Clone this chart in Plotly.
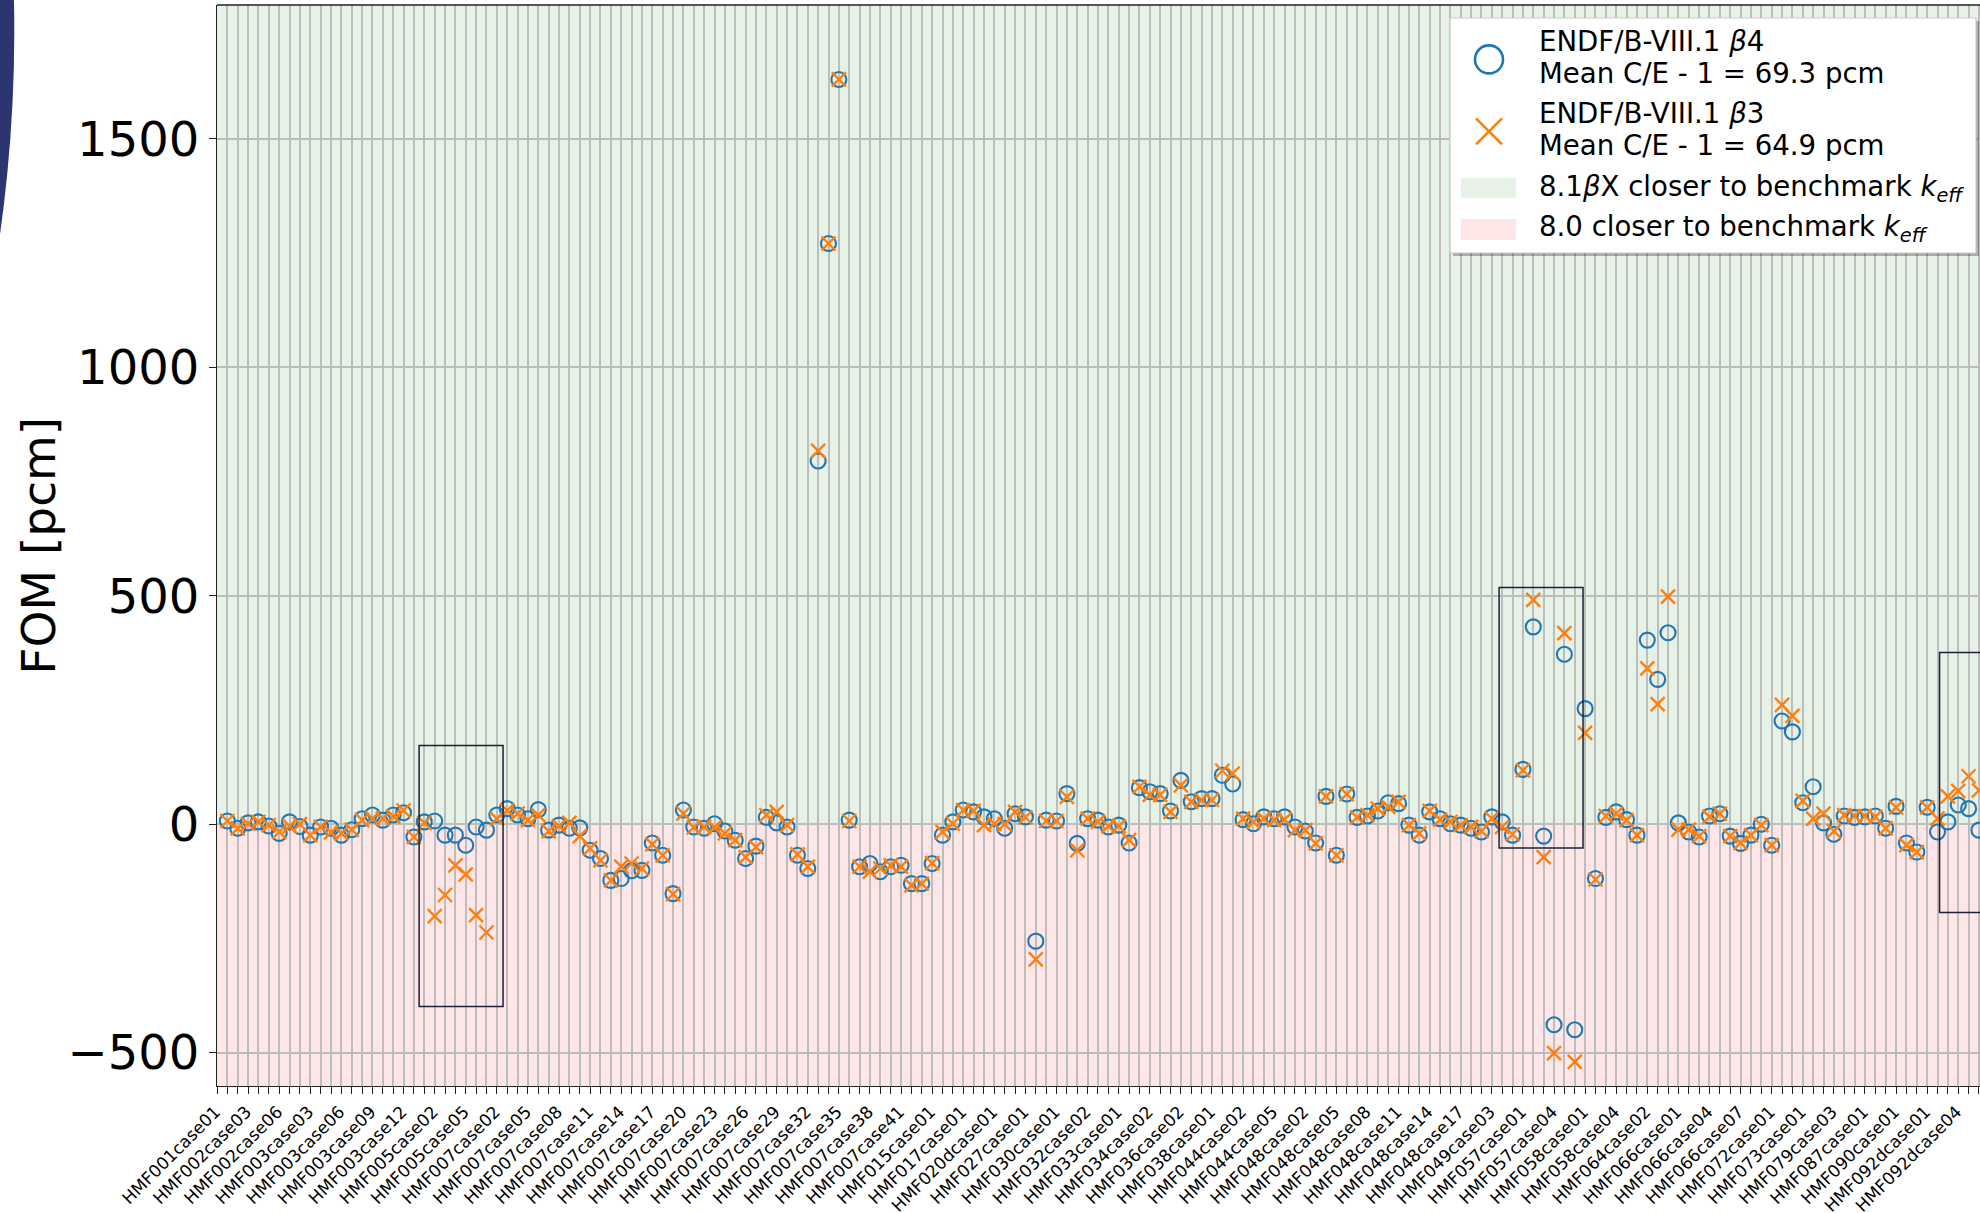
import plotly.graph_objects as go

# ---------------- data ----------------
case_index = list(range(170))

beta4_fom = [
    7, -9, 3, 5, -4, -20, 5, -5, -24, -6,
    -9, -24, -12, 12, 20, 9, 20, 25, -28, 5,
    7, -24, -24, -46, -6, -13, 20, 34, 20, 12,
    32, -13, -2, -9, -8, -57, -75, -123, -119, -102,
    -101, -41, -68, -152, 31, -6, -9, 1, -15, -35,
    -75, -48, 15, 3, -6, -68, -97, 795, 1271, 1630,
    9, -93, -86, -104, -93, -90, -130, -130, -86, -24,
    5, 31, 27, 16, 12, -9, 23, 16, -256, 9,
    7, 67, -42, 12, 9, -6, -2, -41, 80, 71,
    67, 29, 96, 49, 56, 56, 107, 88, 10, 1,
    16, 12, 16, -6, -15, -41, 61, -68, 66, 15,
    18, 29, 47, 45, -2, -24, 27, 12, 1, -2,
    -9, -17, 16, 5, -24, 120, 432, -26, -439, 372,
    -450, 253, -119, 15, 27, 10, -24, 403, 317, 419,
    3, -17, -28, 18, 23, -26, -42, -24, 0, -46,
    226, 202, 47, 82, 3, -22, 18, 15, 16, 18,
    -9, 39, -41, -61, 37, -17, 5, 42, 34, -13,
]

beta3_fom = [
    7, -9, 1, 5, -2, -17, -4, 0, -24, -6,
    -18, -20, -12, 9, 12, 12, 17, 30, -28, 3,
    -201, -155, -90, -110, -199, -237, 12, 30, 23, 9,
    20, -15, -4, 3, -26, -53, -79, -123, -93, -86,
    -97, -44, -68, -153, 23, -7, -6, -7, -20, -35,
    -72, -50, 20, 27, -2, -66, -93, 817, 1271, 1630,
    7, -93, -104, -97, -90, -93, -134, -130, -85, -17,
    1, 31, 29, -2, 1, 0, 27, 15, -296, 7,
    7, 60, -57, 12, 5, -4, -4, -35, 82, 64,
    64, 27, 85, 49, 53, 53, 117, 111, 12, 5,
    12, 9, 10, -13, -13, -42, 61, -68, 66, 15,
    20, 34, 38, 49, -2, -20, 29, 10, 5, -2,
    -6, -15, 12, -6, -22, 118, 491, -72, -501, 418,
    -520, 200, -121, 18, 23, 9, -24, 341, 263, 498,
    -12, -12, -26, 16, 23, -26, -41, -24, -2, -46,
    261, 237, 51, 12, 23, -15, 20, 18, 18, 16,
    -9, 37, -46, -61, 37, 12, 61, 73, 105, 74,
]

tick_labels = [
    "HMF001case01", "HMF002case03", "HMF002case06", "HMF003case03", "HMF003case06",
    "HMF003case09", "HMF003case12", "HMF005case02", "HMF005case05", "HMF007case02",
    "HMF007case05", "HMF007case08", "HMF007case11", "HMF007case14", "HMF007case17",
    "HMF007case20", "HMF007case23", "HMF007case26", "HMF007case29", "HMF007case32",
    "HMF007case35", "HMF007case38", "HMF007case41", "HMF015case01", "HMF017case01",
    "HMF020dcase01", "HMF027case01", "HMF030case01", "HMF032case02", "HMF033case01",
    "HMF034case02", "HMF036case02", "HMF038case01", "HMF044case02", "HMF044case05",
    "HMF048case02", "HMF048case05", "HMF048case08", "HMF048case11", "HMF048case14",
    "HMF048case17", "HMF049case03", "HMF057case01", "HMF057case04", "HMF058case01",
    "HMF058case04", "HMF064case02", "HMF066case01", "HMF066case04", "HMF066case07",
    "HMF072case01", "HMF073case01", "HMF079case03", "HMF087case01", "HMF090case01",
    "HMF092dcase01", "HMF092dcase04",
]
tick_positions = case_index[::3]

y_ticks = [-500, 0, 500, 1000, 1500]

# highlighted regions: (x_start, x_end, y_low, y_high) in data units
highlight_boxes = [
    (18.5, 26.6, -399, 172),
    (122.7, 130.8, -52, 518),
    (165.2, 185.0, -193, 376),
]

series_names = [
    ["ENDF/B-VIII.1 <i>β</i>4", "Mean C/E - 1 = 69.3 pcm"],
    ["ENDF/B-VIII.1 <i>β</i>3", "Mean C/E - 1 = 64.9 pcm"],
]
region_names = [
    "8.1<i>β</i>X closer to benchmark <i>k</i><sub><i>eff</i></sub>",
    "8.0 closer to benchmark <i>k</i><sub><i>eff</i></sub>",
]

# ---------------- layout geometry (pixels) ----------------
W, H = 1980, 1213
L, R, T, B = 217, 0, 5, 127
PW, PH = W - L - R, H - T - B
X_RANGE = [-1.0, 169.1]
Y_RANGE = [-573, 1793]


def px(xp):
    return (xp - L) / PW


def py(yp):
    return (H - B - yp) / PH


FONT = "DejaVu Sans"
BLUE = "#1f77b4"
ORANGE = "#ff7f0e"
GREEN_BG = "#e6f2e6"
RED_BG = "#ffe6e6"
GRID = "#bdbdbd"
AX = "#222222"

fig = go.Figure()

fig.add_trace(go.Scatter(
    x=case_index, y=beta4_fom, mode="markers", showlegend=False,
    marker=dict(symbol="circle-open", size=15, color=BLUE, line=dict(width=2.1, color=BLUE)),
    cliponaxis=True,
))
fig.add_trace(go.Scatter(
    x=case_index, y=beta3_fom, mode="markers", showlegend=False,
    marker=dict(symbol="x-thin-open", size=14, color=ORANGE, line=dict(width=2.4, color=ORANGE)),
    cliponaxis=True,
))

shapes = []
# background regions
shapes.append(dict(type="rect", xref="paper", yref="y", x0=0, x1=1, y0=0, y1=Y_RANGE[1],
                   fillcolor=GREEN_BG, line=dict(width=0), layer="below"))
shapes.append(dict(type="rect", xref="paper", yref="y", x0=0, x1=1, y0=Y_RANGE[0], y1=0,
                   fillcolor=RED_BG, line=dict(width=0), layer="below"))
# highlight boxes
for (xa, xb, ya, yb) in highlight_boxes:
    shapes.append(dict(type="rect", xref="x", yref="y", x0=xa, x1=xb, y0=ya, y1=yb,
                       line=dict(color="#1c1f3d", width=1.5), fillcolor="rgba(0,0,0,0)",
                       layer="above"))
# top spine
shapes.append(dict(type="line", xref="paper", yref="paper", x0=0, x1=1, y0=1, y1=1,
                   line=dict(color=AX, width=1.3), layer="above"))

# decorative slide arc at the left edge
cx, cy, rad = -1434.7, 31.2, 1449.0
shapes.append(dict(type="circle", xref="paper", yref="paper",
                   x0=px(cx - rad), x1=px(cx + rad), y0=py(cy + rad), y1=py(cy - rad),
                   fillcolor="#2d3570", line=dict(width=0), layer="above"))

# legend box (manual, to match the larger legend markers)
lg_l, lg_t, lg_r, lg_b = 1450, 18, 1976, 253
shapes.append(dict(type="rect", xref="paper", yref="paper",
                   x0=px(lg_l + 3), x1=px(lg_r + 3), y0=py(lg_b + 3), y1=py(lg_t + 3),
                   fillcolor="rgba(0,0,0,0.28)", line=dict(width=0), layer="above"))
shapes.append(dict(type="rect", xref="paper", yref="paper",
                   x0=px(lg_l), x1=px(lg_r), y0=py(lg_b), y1=py(lg_t),
                   fillcolor="white", line=dict(color="#cccccc", width=1.2), layer="above"))
# legend circle marker
mx = 1489
shapes.append(dict(type="circle", xref="paper", yref="paper",
                   x0=px(mx - 14), x1=px(mx + 14), y0=py(59.4 + 14), y1=py(59.4 - 14),
                   line=dict(color=BLUE, width=2.6), fillcolor="rgba(0,0,0,0)", layer="above"))
# legend X marker
xs = 13
for sgn in (1, -1):
    shapes.append(dict(type="line", xref="paper", yref="paper",
                       x0=px(mx - xs), x1=px(mx + xs), y0=py(131.3 - sgn * xs), y1=py(131.3 + sgn * xs),
                       line=dict(color=ORANGE, width=2.6), layer="above"))
# legend patches
shapes.append(dict(type="rect", xref="paper", yref="paper",
                   x0=px(1461), x1=px(1516), y0=py(198), y1=py(178),
                   fillcolor=GREEN_BG, line=dict(width=0), layer="above"))
shapes.append(dict(type="rect", xref="paper", yref="paper",
                   x0=px(1461), x1=px(1516), y0=py(240), y1=py(219),
                   fillcolor=RED_BG, line=dict(width=0), layer="above"))

annotations = []
text_x = 1537
line_y = [41.7, 73.2, 113.6, 145.2]
lines = series_names[0] + series_names[1]
for t, yy in zip(lines, line_y):
    annotations.append(dict(xref="paper", yref="paper", x=px(text_x), y=py(yy), text=t,
                            showarrow=False, xanchor="left", yanchor="middle",
                            font=dict(family=FONT, size=27.6, color="black")))
for t, yy in zip(region_names, [188, 228.6]):
    annotations.append(dict(xref="paper", yref="paper", x=px(text_x), y=py(yy), text=t,
                            showarrow=False, xanchor="left", yanchor="middle",
                            font=dict(family=FONT, size=27.6, color="black")))
# y-axis title
annotations.append(dict(xref="paper", yref="paper", x=px(38), y=0.5, text="FOM [pcm]",
                        textangle=-90, showarrow=False, xanchor="center", yanchor="middle",
                        font=dict(family=FONT, size=47, color="black")))

fig.update_layout(
    width=W, height=H,
    margin=dict(l=L, r=R, t=T, b=B, pad=0, autoexpand=False),
    paper_bgcolor="white", plot_bgcolor="white",
    font=dict(family=FONT, color="black"),
    showlegend=False,
    shapes=shapes,
    annotations=annotations,
    xaxis=dict(
        range=X_RANGE, tickmode="array", tickvals=tick_positions, ticktext=tick_labels,
        tickangle=-45, tickfont=dict(family=FONT, size=17, color="black"),
        ticklabelshift=-12, ticklabelstandoff=1,
        ticks="outside", ticklen=7, tickwidth=1.3, tickcolor=AX,
        showgrid=True, gridcolor=GRID, gridwidth=1.5,
        minor=dict(tickmode="linear", tick0=0, dtick=1, ticks="outside", ticklen=7,
                   tickwidth=1.3, tickcolor=AX, showgrid=True, gridcolor=GRID, gridwidth=1.5),
        showline=True, linecolor=AX, linewidth=1.3, mirror=False,
        zeroline=False, automargin=False,
    ),
    yaxis=dict(
        range=Y_RANGE, tickmode="array", tickvals=y_ticks,
        tickfont=dict(family=FONT, size=48, color="black"),
        ticks="outside", ticklen=7, tickwidth=1.3, tickcolor=AX,
        showgrid=True, gridcolor=GRID, gridwidth=1.5,
        showline=True, linecolor=AX, linewidth=1.3,
        zeroline=False, automargin=False,
    ),
)

fig.write_html(
    "out.html",
    config={"displayModeBar": False},
    post_script="document.body.style.margin='0';document.body.style.overflow='hidden';",
)
